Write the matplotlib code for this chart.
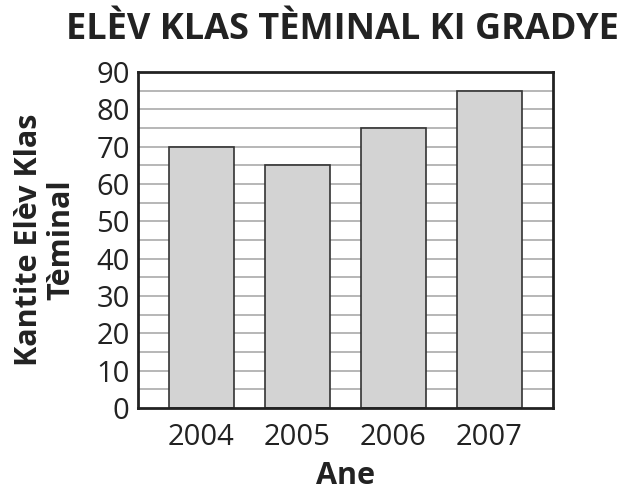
import matplotlib
matplotlib.use('Agg')
import matplotlib.pyplot as plt

years = ['2004', '2005', '2006', '2007']
students = [70, 65, 75, 85]
y_ticks = list(range(0, 91, 10))

plt.rcParams['font.family'] = ['Open Sans', 'DejaVu Sans']

fig = plt.figure(figsize=(6.31, 4.91), dpi=100)
ax = fig.add_axes([0.2187, 0.169, 0.876 - 0.2187, 0.8534 - 0.169])

x = range(len(years))
ax.set_axisbelow(True)
for v in range(5, 90, 5):
    ax.axhline(v, color='#aaaaaa', lw=1.2, zorder=0)
ax.bar(x, students, width=0.68, color='#d3d3d3', edgecolor='#333333', linewidth=1.2, zorder=2)

ax.set_xlim(-0.66, 3.66)
ax.set_ylim(0, 90)
ax.set_xticks(list(x))
ax.set_xticklabels(years)
ax.set_yticks(y_ticks)
ax.tick_params(length=0, labelsize=21, colors='#222222')
ax.tick_params(axis='x', pad=11)
ax.tick_params(axis='y', pad=6)
for s in ax.spines.values():
    s.set_linewidth(2)
    s.set_color('#222222')

ax.set_xlabel('Ane', fontsize=22, fontweight='bold', labelpad=6, color='#222222')
ax.set_ylabel('Kantite Elèv Klas\nTèminal', fontsize=22, fontweight='bold', labelpad=14,
              color='#222222', linespacing=1.1)
fig.text(0.542, 0.939, 'ELÈV KLAS TÈMINAL KI GRADYE', ha='center', va='center',
         fontsize=26, fontweight='bold', color='#222222')

fig.savefig('out.png', dpi=100)
